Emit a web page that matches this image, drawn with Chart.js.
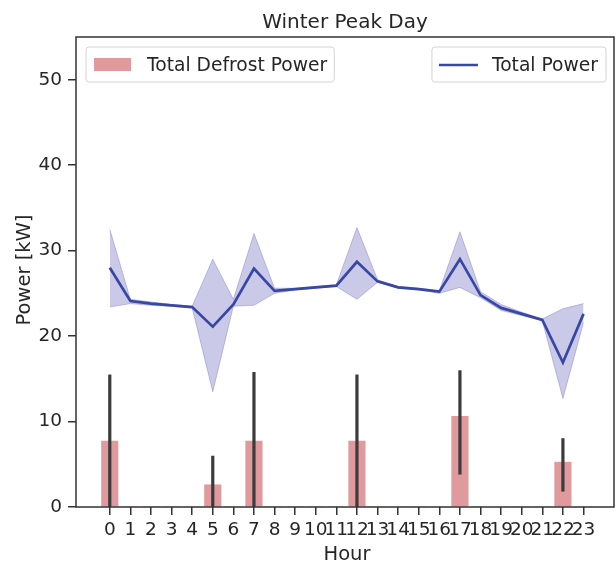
<!DOCTYPE html>
<html>
<head>
<meta charset="utf-8">
<script src="https://cdn.jsdelivr.net/npm/chart.js@4.4.1/dist/chart.umd.min.js"></script>
<style>
  html, body { margin: 0; padding: 0; background: #fff; }
  #wrap { width: 616px; height: 562px; }
</style>
</head>
<body>
<div id="wrap"><canvas id="chart" width="616" height="562"></canvas></div>
<script>
// data
const hours = [0,1,2,3,4,5,6,7,8,9,10,11,12,13,14,15,16,17,18,19,20,21,22,23];
const totalPower = [28.0,24.1,23.8,23.6,23.4,21.1,23.7,27.9,25.3,25.5,25.7,25.9,28.7,26.4,25.7,25.5,25.2,29.0,24.8,23.3,22.6,21.9,16.9,22.6];
const totalUpper = [32.5,24.3,24.0,23.7,23.5,29.0,24.3,32.0,25.6,25.6,25.8,26.0,32.7,26.6,25.8,25.6,25.3,32.2,25.2,23.7,22.8,22.0,23.2,23.8];
const totalLower = [23.4,23.8,23.6,23.5,23.3,13.5,23.5,23.6,25.0,25.4,25.6,25.8,24.3,26.3,25.6,25.4,25.0,25.7,24.5,23.0,22.4,21.8,12.7,21.6];
const defrost    = [7.7,0,0,0,0,2.6,0,7.7,0,0,0,0,7.7,0,0,0,0,10.6,0,0,0,0,5.25,0];
const defrostHigh = [15.5,0,0,0,0,6.0,0,15.8,0,0,0,0,15.5,0,0,0,0,16.0,0,0,0,0,8.05,0];
const defrostLow  = [0,0,0,0,0,0,0,0,0,0,0,0,0,0,0,0,0,3.8,0,0,0,0,1.8,0];
const yTicks = [0,10,20,30,40,50];

const FONT = 'DejaVu Sans';
const TXT = '#262626';
const BAR = '#e0999d';
const LINE = '#3747a5';
const BAND = 'rgba(95,95,185,0.33)';

function pts(arr) { return hours.map((h, i) => ({ x: h, y: arr[i] })); }

// frame, error bars, titles and the two legend boxes
const extras = {
  id: 'extras',
  afterDatasetsDraw(chart) {
    const ctx = chart.ctx, xs = chart.scales.x, ys = chart.scales.y;
    ctx.save();
    ctx.strokeStyle = '#3b3b3b';
    ctx.lineWidth = 3.2;
    hours.forEach((h, i) => {
      if (!defrost[i]) return;
      const px = xs.getPixelForValue(h);
      ctx.beginPath();
      ctx.moveTo(px, ys.getPixelForValue(defrostLow[i]));
      ctx.lineTo(px, ys.getPixelForValue(defrostHigh[i]));
      ctx.stroke();
    });
    ctx.restore();
  },
  afterDraw(chart) {
    const ctx = chart.ctx, ca = chart.chartArea;
    ctx.save();
    ctx.strokeStyle = '#333';
    ctx.lineWidth = 1.5;
    ctx.strokeRect(ca.left, ca.top, ca.right - ca.left, ca.bottom - ca.top);

    ctx.fillStyle = TXT;
    ctx.textBaseline = 'alphabetic';
    ctx.textAlign = 'center';
    ctx.font = '20px "' + FONT + '"';
    ctx.fillText('Winter Peak Day', (ca.left + ca.right) / 2, ca.top - 9);

    // axis titles
    ctx.font = '19.5px "' + FONT + '"';
    ctx.fillText('Hour', (ca.left + ca.right) / 2 + 2, 560);
    ctx.save();
    ctx.translate(30, (ca.top + ca.bottom) / 2 - 2);
    ctx.rotate(-Math.PI / 2);
    ctx.fillText('Power [kW]', 0, 0);
    ctx.restore();

    // legends
    ctx.font = '18.7px "' + FONT + '"';
    ctx.textAlign = 'left';
    const by = ca.top + 10, bh = 35;
    function box(x, w) {
      ctx.beginPath();
      ctx.roundRect(x, by, w, bh, 3);
      ctx.fillStyle = 'rgba(255,255,255,0.85)';
      ctx.fill();
      ctx.strokeStyle = '#d4d4d4';
      ctx.lineWidth = 1;
      ctx.stroke();
    }
    const t1 = 'Total Defrost Power', t2 = 'Total Power';
    const w1 = ctx.measureText(t1).width, w2 = ctx.measureText(t2).width;
    const lx = ca.left + 10;
    box(lx, 8 + 37 + 16 + w1 + 7);
    ctx.fillStyle = BAR;
    ctx.fillRect(lx + 8, by + 11, 37, 13);
    ctx.fillStyle = TXT;
    ctx.fillText(t1, lx + 61, by + 24);

    const rw = 7 + 39 + 14 + w2 + 8;
    const rx = ca.right - 8 - rw;
    box(rx, rw);
    ctx.strokeStyle = LINE;
    ctx.lineWidth = 2.5;
    ctx.beginPath();
    ctx.moveTo(rx + 7, by + 18);
    ctx.lineTo(rx + 46, by + 18);
    ctx.stroke();
    ctx.fillStyle = TXT;
    ctx.fillText(t2, rx + 60, by + 24);
    ctx.restore();
  }
};

new Chart(document.getElementById('chart'), {
  data: {
    datasets: [
      {
        type: 'bar',
        label: 'Total Defrost Power',
        data: pts(defrost),
        backgroundColor: BAR,
        borderWidth: 0,
        barThickness: 16.5,
        order: 3
      },
      {
        type: 'line',
        label: 'upper',
        data: pts(totalUpper),
        borderColor: 'rgba(95,95,185,0.35)',
        borderWidth: 1,
        pointRadius: 0,
        fill: false,
        order: 2
      },
      {
        type: 'line',
        label: 'lower',
        data: pts(totalLower),
        borderColor: 'rgba(95,95,185,0.35)',
        borderWidth: 1,
        pointRadius: 0,
        backgroundColor: BAND,
        fill: '-1',
        order: 2
      },
      {
        type: 'line',
        label: 'Total Power',
        data: pts(totalPower),
        borderColor: LINE,
        borderWidth: 2.7,
        pointRadius: 0,
        fill: false,
        order: 1
      }
    ]
  },
  options: {
    responsive: false,
    animation: false,
    layout: { padding: { top: 37, right: 2, left: 0, bottom: 0 } },
    plugins: { legend: { display: false }, tooltip: { enabled: false }, title: { display: false } },
    scales: {
      x: {
        type: 'linear',
        offset: false,
        min: -1.64,
        max: 24.48,
        afterBuildTicks: s => { s.ticks = hours.map(v => ({ value: v })); },
        afterFit: s => { s.height = 55; },
        grid: { offset: false, drawOnChartArea: false, drawTicks: true, tickLength: 8, color: '#333', lineWidth: 1.5 },
        border: { display: false },
        ticks: { autoSkip: false, maxRotation: 0, minRotation: 0, padding: 4, color: TXT, font: { family: FONT, size: 18.5 } }
      },
      y: {
        min: 0,
        max: 55,
        afterBuildTicks: s => { s.ticks = yTicks.map(v => ({ value: v })); },
        afterFit: s => { s.width = 76; },
        grid: { drawOnChartArea: false, drawTicks: true, tickLength: 8, color: '#333', lineWidth: 1.5 },
        border: { display: false },
        ticks: { padding: 6, color: TXT, font: { family: FONT, size: 18.5 } }
      }
    }
  },
  plugins: [extras]
});
</script>
</body>
</html>
